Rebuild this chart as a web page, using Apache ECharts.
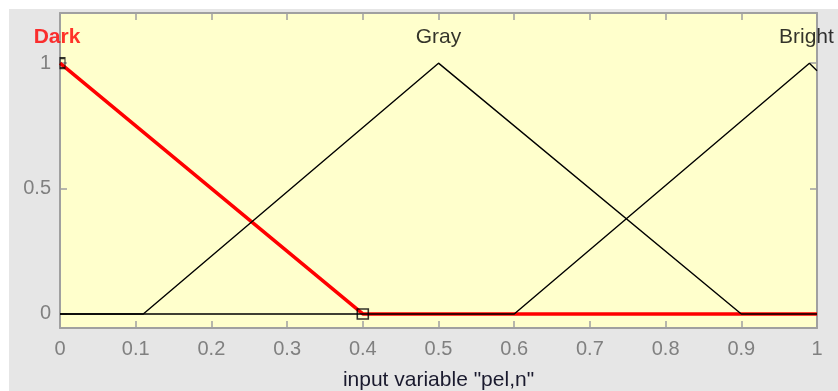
<!DOCTYPE html>
<html><head><meta charset="utf-8">
<script src="https://cdn.jsdelivr.net/npm/echarts@6/dist/echarts.min.js"></script>
<style>html,body{margin:0;padding:0;background:#fff}#c{width:838px;height:391px}</style>
</head><body><div id="c"></div>
<script>
var xTicks = [0,0.1,0.2,0.3,0.4,0.5,0.6,0.7,0.8,0.9,1];
var yTicks = [0,0.5,1];
var mfNames = ['Dark','Gray','Bright'];
var mfPeaks = [0,0.5,0.99];
var darkPts = [[0,1],[0.4,0],[1,0]];
var grayPts = [[0,0],[0.11,0],[0.5,1],[0.9,0],[1,0]];
var brightPts = [[0,0],[0.6,0],[0.99,1],[1,0.97]];
var labelY = 1.104;
var xName = 'input variable "pel,n"';

var FONT = 'Liberation Sans';
var chart = echarts.init(document.getElementById('c'), null, {renderer:'canvas'});
var axisCol = '#a0a0a0';
var labCol = '#808080';
function fmt(v){ return String(Math.round(v*10)/10); }
chart.setOption({
  backgroundColor:'#ffffff',
  animation:false,
  graphic:[{type:'rect', z:-10, shape:{x:9,y:9,width:829,height:382}, style:{fill:'#e6e6e6'}}],
  grid:{left:60,right:21,top:13,bottom:63,show:true,backgroundColor:'#ffffcc',borderWidth:0,
        containLabel:false,outerBoundsMode:'none'},
  xAxis:[{
    type:'value',min:0,max:1,interval:0.1,position:'bottom',
    name:xName,nameLocation:'middle',nameGap:42,
    nameTextStyle:{color:'#1a1a2e',fontFamily:FONT,fontSize:21},
    axisLine:{show:true,onZero:false,lineStyle:{color:axisCol,width:2}},
    axisTick:{show:true,inside:true,length:7,lineStyle:{color:axisCol,width:1.5}},
    axisLabel:{color:labCol,fontFamily:FONT,fontSize:20,margin:11,formatter:fmt},
    splitLine:{show:false}
  },{
    type:'value',min:0,max:1,interval:0.1,position:'top',
    axisLine:{show:true,onZero:false,lineStyle:{color:axisCol,width:2}},
    axisTick:{show:true,inside:true,length:7,lineStyle:{color:axisCol,width:1.5}},
    axisLabel:{show:false},splitLine:{show:false}
  }],
  yAxis:[{
    type:'value',min:-0.056,max:1.2,position:'left',
    axisLine:{show:true,onZero:false,lineStyle:{color:axisCol,width:2}},
    axisTick:{show:true,inside:true,length:7,customValues:yTicks,lineStyle:{color:axisCol,width:1.5}},
    axisLabel:{color:labCol,fontFamily:FONT,fontSize:20,margin:9,customValues:yTicks,formatter:fmt},
    splitLine:{show:false}
  },{
    type:'value',min:-0.056,max:1.2,position:'right',
    axisLine:{show:true,onZero:false,lineStyle:{color:axisCol,width:2}},
    axisTick:{show:true,inside:true,length:7,customValues:yTicks,lineStyle:{color:axisCol,width:1.5}},
    axisLabel:{show:false},splitLine:{show:false}
  }],
  series:[
    {type:'line',data:darkPts,symbol:'none',z:2,lineStyle:{color:'#ff0000',width:3.5}},
    {type:'line',data:grayPts,symbol:'none',z:3,lineStyle:{color:'#000000',width:1.4}},
    {type:'line',data:brightPts,symbol:'none',z:3,lineStyle:{color:'#000000',width:1.4}},
    {type:'scatter',data:[darkPts[1]],symbol:'rect',symbolSize:[11,10],z:5,
      itemStyle:{color:'rgba(0,0,0,0)',borderColor:'#000',borderWidth:1.5}},
    {type:'scatter',data:[darkPts[0]],symbol:'rect',symbolSize:[5,10],symbolOffset:[2.5,0],z:5,
      itemStyle:{color:'rgba(0,0,0,0)',borderColor:'#000',borderWidth:1.5}},
    {type:'scatter',symbolSize:1,z:6,itemStyle:{color:'rgba(0,0,0,0)'},
      data:mfNames.map(function(n,i){return {value:[mfPeaks[i],labelY],name:n,
        label:{color:i===0?'#ff0000':'#000000',fontWeight:i===0?'bold':'normal',
               offset:[i===0?-3:(i===2?-3:0),0]}};}),
      label:{show:true,position:'inside',formatter:function(p){return p.name;},fontFamily:FONT,fontSize:21}}
  ]
});
</script></body></html>
